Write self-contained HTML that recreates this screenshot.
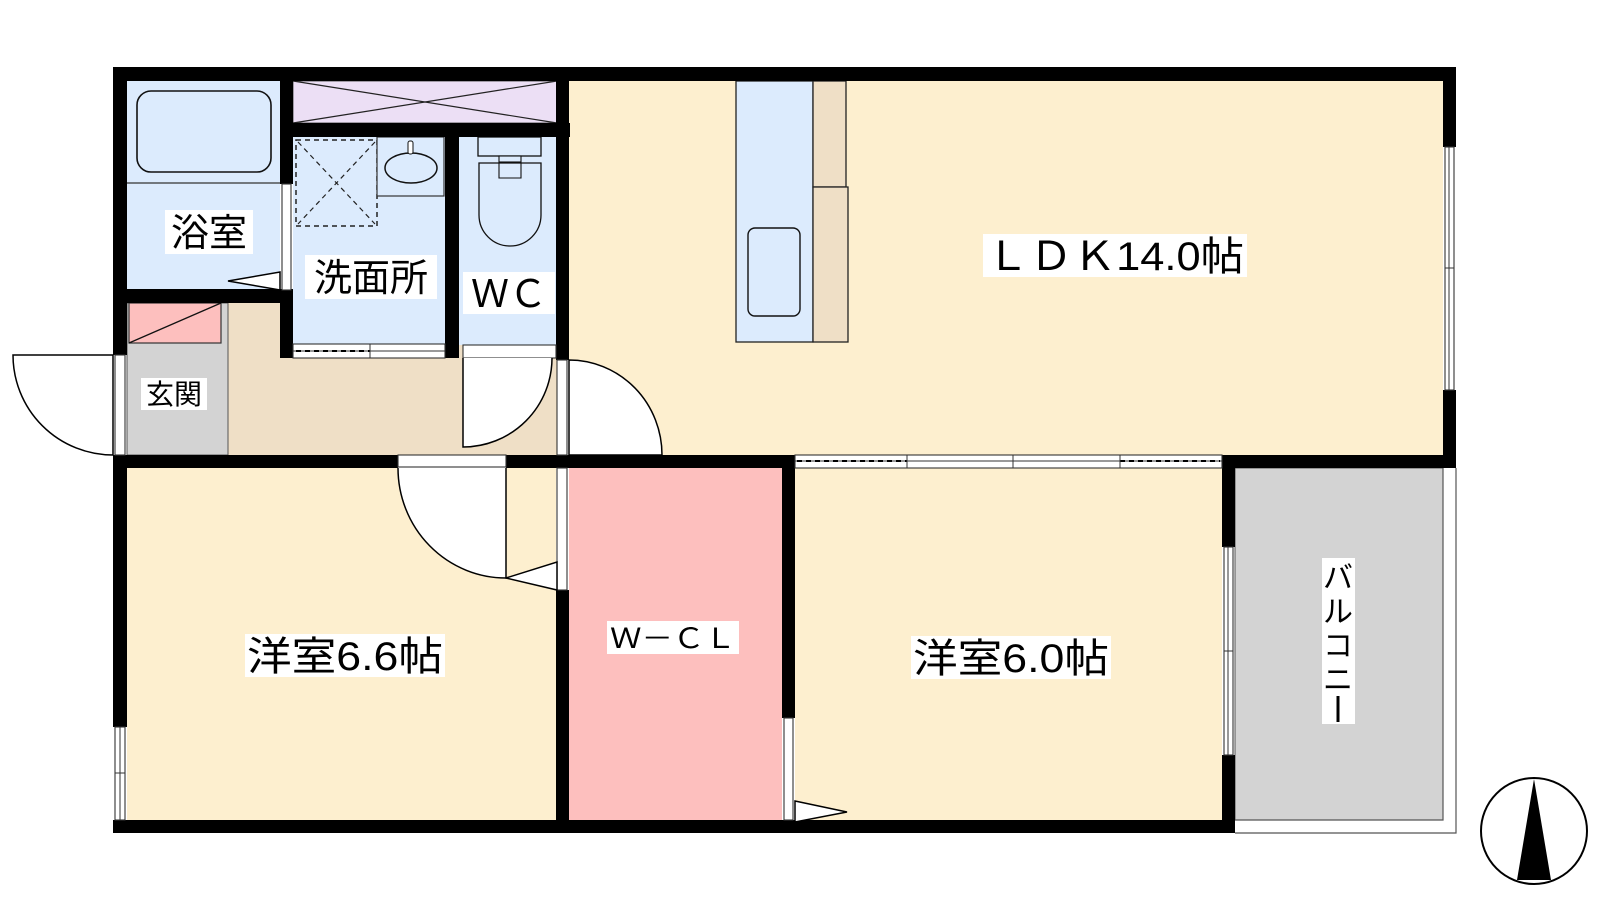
<!DOCTYPE html>
<html><head><meta charset="utf-8"><style>
html,body{margin:0;padding:0;background:#fff;width:1600px;height:900px;overflow:hidden}
text{font-family:"Liberation Sans","Noto Sans CJK JP",sans-serif;fill:#000}
</style></head><body>
<svg width="1600" height="900" viewBox="0 0 1600 900" xmlns="http://www.w3.org/2000/svg">
<!-- floors -->
<rect x="228" y="303" width="329" height="152" fill="#efdfc6"/>
<rect x="127" y="81" width="153" height="208" fill="#dcebfd"/>
<rect x="293" y="81" width="264" height="42" fill="#ecdff5" stroke="#555" stroke-width="1"/>
<line x1="293" y1="81" x2="557" y2="123" stroke="#222" stroke-width="1.2"/>
<line x1="557" y1="81" x2="293" y2="123" stroke="#222" stroke-width="1.2"/>
<rect x="293" y="137" width="152" height="207" fill="#dcebfd"/>
<rect x="459" y="137" width="98" height="208" fill="#dcebfd"/>
<rect x="127" y="303" width="101" height="152" fill="#d3d3d3" stroke="#555" stroke-width="1"/>
<rect x="569" y="81" width="874" height="374" fill="#fdefcf"/>
<rect x="127" y="468" width="429" height="352" fill="#fdefcf"/>
<rect x="569" y="468" width="213" height="352" fill="#fdbfbe"/>
<rect x="795" y="468" width="427" height="352" fill="#fdefcf"/>
<!-- balcony -->
<rect x="1235" y="468" width="208" height="352" fill="#d3d3d3" stroke="#555" stroke-width="1"/>
<rect x="1443" y="468" width="13" height="365" fill="#fff"/>
<rect x="1235" y="820" width="221" height="13" fill="#fff"/>
<polyline points="1443,468 1443,820 1235,820" fill="none" stroke="#555" stroke-width="1.2"/>
<polyline points="1456,468 1456,833 1235,833" fill="none" stroke="#555" stroke-width="1.2"/>
<!-- bath -->
<rect x="137" y="91" width="134" height="81" rx="14" fill="#dcebfd" stroke="#111" stroke-width="1.6"/>
<line x1="127" y1="183" x2="280" y2="183" stroke="#333" stroke-width="1.2"/>
<!-- washer / sink -->
<rect x="296" y="140" width="81" height="86" fill="none" stroke="#222" stroke-width="1.5" stroke-dasharray="5,4"/>
<line x1="298" y1="142" x2="375" y2="224" stroke="#222" stroke-width="1.2" stroke-dasharray="5,4"/>
<line x1="375" y1="142" x2="298" y2="224" stroke="#222" stroke-width="1.2" stroke-dasharray="5,4"/>
<rect x="377" y="137" width="67" height="59" fill="#dcebfd" stroke="#333" stroke-width="1.2"/>
<ellipse cx="411" cy="168" rx="26" ry="15" fill="#dcebfd" stroke="#111" stroke-width="1.5"/>
<rect x="408" y="141" width="5" height="13" rx="2" fill="#fff" stroke="#111"/>
<!-- toilet -->
<rect x="478" y="137" width="63" height="19" fill="#dcebfd" stroke="#111" stroke-width="1.3"/>
<rect x="499" y="156" width="22" height="6" fill="#dcebfd" stroke="#111" stroke-width="1.1"/>
<path d="M479 163 H541 V215 A31 31 0 0 1 479 215 Z" fill="#dcebfd" stroke="#111" stroke-width="1.3"/>
<path d="M499 163 V178 H521 V163" fill="none" stroke="#111" stroke-width="1.1"/>
<!-- shoe box -->
<rect x="129" y="303" width="92" height="40" fill="#fdbfbe" stroke="#333" stroke-width="1.2"/>
<line x1="129" y1="343" x2="221" y2="303" stroke="#111" stroke-width="1.3"/>
<!-- kitchen -->
<rect x="736" y="81" width="77" height="261" fill="#dcebfd" stroke="#222" stroke-width="1.3"/>
<rect x="813" y="81" width="33" height="106" fill="#efdfc6" stroke="#222" stroke-width="1.3"/>
<rect x="813" y="187" width="35" height="155" fill="#efdfc6" stroke="#222" stroke-width="1.3"/>
<rect x="748" y="228" width="52" height="88" rx="7" fill="#dcebfd" stroke="#111" stroke-width="1.4"/>
<!-- walls -->
<g fill="#000">
<rect x="113" y="67" width="1343" height="14"/>
<rect x="113" y="67" width="14" height="288"/>
<rect x="113" y="455" width="14" height="272"/>
<rect x="113" y="820" width="1122" height="13"/>
<rect x="1443" y="67" width="13" height="80"/>
<rect x="1443" y="390" width="13" height="78"/>
<rect x="280" y="67" width="13" height="117"/>
<rect x="280" y="290" width="13" height="68"/>
<rect x="113" y="289" width="180" height="14"/>
<rect x="280" y="123" width="290" height="14"/>
<rect x="445" y="123" width="14" height="235"/>
<rect x="556" y="67" width="13" height="293"/>
<rect x="113" y="455" width="285" height="13"/>
<rect x="506" y="455" width="289" height="13"/>
<rect x="1222" y="455" width="234" height="13"/>
<rect x="556" y="455" width="13" height="13"/>
<rect x="556" y="590" width="13" height="235"/>
<rect x="782" y="455" width="13" height="263"/>
<rect x="1222" y="455" width="13" height="92"/>
<rect x="1222" y="755" width="13" height="78"/>
</g>
<!-- windows / openings -->
<g fill="#fff" stroke="#333" stroke-width="1.1">
<rect x="115" y="355" width="10" height="100"/>
<rect x="115" y="727" width="10" height="93"/>
<rect x="1445" y="147" width="9" height="243"/>
<rect x="1224" y="547" width="9" height="208"/>
<rect x="282" y="184" width="9" height="106"/>
<rect x="557" y="360" width="10" height="95"/>
<rect x="557" y="468" width="10" height="122"/>
<rect x="784" y="718" width="9" height="102"/>
<rect x="398" y="455" width="108" height="12"/>
<rect x="463" y="345" width="93" height="13"/>
<rect x="293" y="344" width="152" height="14"/>
<rect x="795" y="455" width="427" height="13"/>
</g>
<line x1="120" y1="727" x2="120" y2="820" stroke="#333"/>
<line x1="115" y1="773" x2="125" y2="773" stroke="#333"/>
<line x1="1449" y1="147" x2="1449" y2="390" stroke="#333"/>
<line x1="1445" y1="268" x2="1454" y2="268" stroke="#333"/>
<line x1="1228" y1="547" x2="1228" y2="755" stroke="#333"/>
<line x1="1224" y1="651" x2="1233" y2="651" stroke="#333"/>
<line x1="293" y1="351" x2="445" y2="351" stroke="#333"/>
<line x1="296" y1="351" x2="370" y2="351" stroke="#000" stroke-width="2" stroke-dasharray="5,4"/>
<line x1="370" y1="344" x2="370" y2="358" stroke="#333"/>
<line x1="795" y1="461" x2="1222" y2="461" stroke="#333"/>
<line x1="797" y1="461" x2="907" y2="461" stroke="#000" stroke-width="2" stroke-dasharray="5,4"/>
<line x1="1120" y1="461" x2="1220" y2="461" stroke="#000" stroke-width="2" stroke-dasharray="5,4"/>
<line x1="907" y1="455" x2="907" y2="468" stroke="#333"/>
<line x1="1013" y1="455" x2="1013" y2="468" stroke="#333"/>
<line x1="1120" y1="455" x2="1120" y2="468" stroke="#333"/>
<!-- doors -->
<g fill="#fff" stroke="#000" stroke-width="1.5">
<path d="M113 355 H13 A100 100 0 0 0 113 455 Z"/>
<path d="M463 358 V447 A89 89 0 0 0 552 358"/>
<path d="M569 360 V455 H662 A93 95 0 0 0 569 360 Z"/>
<path d="M506 468 V578 A108 110 0 0 1 398 468"/>
<path d="M506 578 L557 562 V590 Z"/>
<path d="M280 272 V290 L228 281 Z"/>
<path d="M795 801 L847 812 L795 822 Z"/>
</g>
<!-- labels -->
<g>
<rect x="165" y="210" width="88" height="44" fill="#fff"/>
<text x="209" y="246" font-size="38" text-anchor="middle">浴室</text>
<rect x="305" y="255" width="132" height="44" fill="#fff"/>
<text x="371" y="291" font-size="38" text-anchor="middle">洗面所</text>
<rect x="463" y="272" width="92" height="42" fill="#fff"/>
<text x="509" y="307" font-size="38" text-anchor="middle">ＷＣ</text>
<rect x="141" y="378" width="66" height="32" fill="#fff"/>
<text x="174" y="404" font-size="28" text-anchor="middle">玄関</text>
<rect x="983" y="234" width="264" height="43" fill="#fff"/>
<text x="986" y="270" font-size="40" textLength="258" lengthAdjust="spacingAndGlyphs">ＬＤＫ14.0帖</text>
<rect x="245" y="634" width="200" height="43" fill="#fff"/>
<text x="247" y="670" font-size="40" textLength="196" lengthAdjust="spacingAndGlyphs">洋室6.6帖</text>
<rect x="607" y="621" width="132" height="33" fill="#fff"/>
<text x="610" y="648" font-size="28" textLength="126" lengthAdjust="spacingAndGlyphs">Ｗ－ＣＬ</text>
<rect x="911" y="636" width="200" height="43" fill="#fff"/>
<text x="913" y="672" font-size="40" textLength="196" lengthAdjust="spacingAndGlyphs">洋室6.0帖</text>
<rect x="1322" y="558" width="33" height="166" fill="#fff"/>
<text x="1338" y="588" font-size="30" text-anchor="middle">バ</text>
<text x="1338" y="622" font-size="30" text-anchor="middle">ル</text>
<text x="1338" y="656" font-size="30" text-anchor="middle">コ</text>
<text x="1338" y="690" font-size="30" text-anchor="middle">ニ</text>
<line x1="1338" y1="696" x2="1338" y2="722" stroke="#000" stroke-width="3"/>
</g>
<!-- compass -->
<circle cx="1534" cy="831" r="53" fill="#fff" stroke="#000" stroke-width="2"/>
<polygon points="1534,779 1517,880 1551,880" fill="#000"/>
</svg>
</body></html>
